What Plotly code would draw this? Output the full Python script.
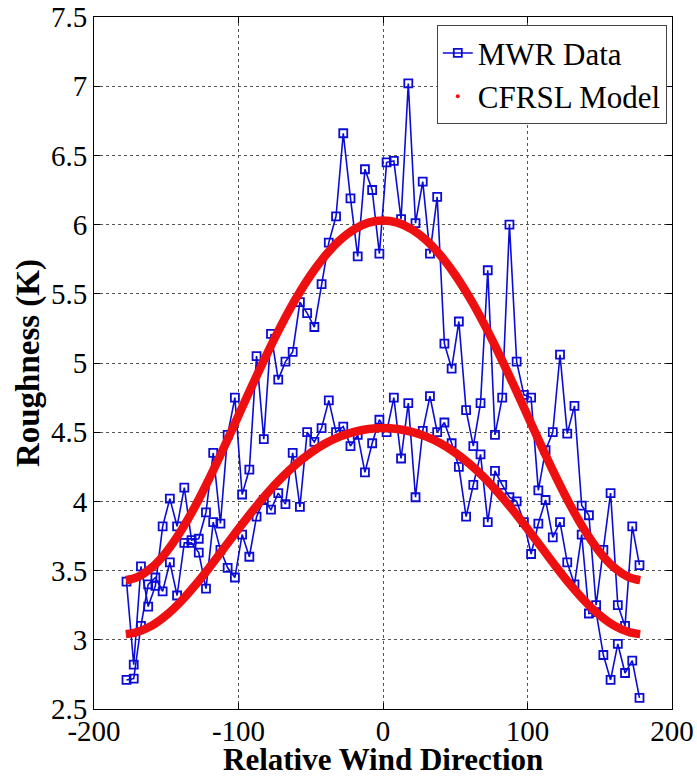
import plotly.graph_objects as go

# ---------------- data ----------------
wind_dir = [-177.5, -172.5, -167.5, -162.5, -157.5, -152.5, -147.5, -142.5, -137.5, -132.5,
            -127.5, -122.5, -117.5, -112.5, -107.5, -102.5, -97.5, -92.5, -87.5, -82.5,
            -77.5, -72.5, -67.5, -62.5, -57.5, -52.5, -47.5, -42.5, -37.5, -32.5,
            -27.5, -22.5, -17.5, -12.5, -7.5, -2.5, 2.5, 7.5, 12.5, 17.5,
            22.5, 27.5, 32.5, 37.5, 42.5, 47.5, 52.5, 57.5, 62.5, 67.5,
            72.5, 77.5, 82.5, 87.5, 92.5, 97.5, 102.5, 107.5, 112.5, 117.5,
            122.5, 127.5, 132.5, 137.5, 142.5, 147.5, 152.5, 157.5, 162.5, 167.5,
            172.5, 177.5]

mwr_high = [3.42, 2.82, 3.53, 3.24, 3.39, 3.82, 4.02, 3.82, 4.10, 3.72,
            3.73, 3.92, 4.35, 3.84, 4.48, 4.75, 4.05, 4.23, 5.05, 4.45,
            5.21, 4.88, 5.01, 5.08, 5.44, 5.36, 5.26, 5.57, 5.87, 6.06,
            6.66, 6.19, 5.77, 6.40, 6.25, 5.79, 6.45, 6.46, 6.04, 7.02,
            6.01, 6.31, 5.79, 6.20, 5.14, 4.96, 5.30, 4.66, 4.40, 4.71,
            5.67, 4.48, 4.75, 6.00, 5.01, 4.77, 4.75, 4.08, 4.37, 4.50,
            5.06, 4.49, 4.69, 3.97, 3.90, 3.25, 3.65, 4.06, 3.25, 3.10,
            3.82, 3.54]

mwr_low = [2.71, 2.72, 3.10, 3.40, 3.45, 3.35, 3.56, 3.32, 3.70, 3.70,
           3.63, 3.37, 3.85, 3.65, 3.52, 3.45, 3.76, 3.60, 3.89, 4.01,
           3.94, 4.06, 3.98, 4.35, 3.96, 4.50, 4.43, 4.53, 4.73, 4.50,
           4.54, 4.40, 4.48, 4.21, 4.42, 4.59, 4.50, 4.75, 4.31, 4.71,
           4.03, 4.51, 4.76, 4.50, 4.57, 4.42, 4.25, 3.89, 4.12, 4.34,
           3.85, 4.22, 4.12, 4.03, 4.00, 3.85, 3.62, 3.84, 4.01, 3.74,
           3.85, 3.56, 3.40, 3.76, 3.19, 3.20, 2.89, 2.71, 2.97, 2.76,
           2.85, 2.58]

model_dir = [-178, -170, -160, -150, -140, -130, -120, -110, -100, -90,
             -80, -70, -60, -50, -40, -30, -20, -10, 0,
             10, 20, 30, 40, 50, 60, 70, 80, 90, 100,
             110, 120, 130, 140, 150, 160, 170, 178]

model_high = [3.431, 3.453, 3.522, 3.634, 3.784, 3.965, 4.170, 4.391, 4.621, 4.850,
              5.072, 5.281, 5.470, 5.636, 5.775, 5.886, 5.966, 6.014, 6.030,
              6.014, 5.966, 5.886, 5.775, 5.636, 5.470, 5.281, 5.072, 4.850, 4.621,
              4.391, 4.170, 3.965, 3.784, 3.634, 3.522, 3.453, 3.431]

model_low = [3.041, 3.056, 3.102, 3.177, 3.276, 3.394, 3.525, 3.663, 3.801, 3.935,
             4.060, 4.172, 4.270, 4.352, 4.418, 4.468, 4.503, 4.523, 4.530,
             4.523, 4.503, 4.468, 4.418, 4.352, 4.270, 4.172, 4.060, 3.935, 3.801,
             3.663, 3.525, 3.394, 3.276, 3.177, 3.102, 3.056, 3.041]

x_tickvals = [-200, -100, 0, 100, 200]
x_ticktext = ["-200", "-100", "0", "100", "200"]
y_tickvals = [2.5, 3, 3.5, 4, 4.5, 5, 5.5, 6, 6.5, 7, 7.5]
y_ticktext = ["2.5", "3", "3.5", "4", "4.5", "5", "5.5", "6", "6.5", "7", "7.5"]

x_title = "Relative Wind Direction"
y_title = "Roughness (K)"

BLUE = "rgb(12,12,215)"
RED = "rgb(238,16,16)"
FONT = "Liberation Serif"

fig = go.Figure()

for i, ys in enumerate([mwr_high, mwr_low]):
    fig.add_trace(go.Scatter(
        x=wind_dir, y=ys, mode="lines+markers",
        name="MWR Data", legendgroup="mwr", showlegend=(i == 0),
        line=dict(color=BLUE, width=1.6),
        marker=dict(symbol="square-open", size=8, color=BLUE, line=dict(width=1.8, color=BLUE)),
    ))

for ys in [model_high, model_low]:
    fig.add_trace(go.Scatter(
        x=model_dir, y=ys, mode="lines", line_shape="spline",
        line=dict(color=RED, width=8.5), showlegend=False, legendgroup="cfrsl",
    ))

# legend entry for model (small red dot, as in the original)
fig.add_trace(go.Scatter(
    x=[None], y=[None], mode="markers", name="CFRSL Model", legendgroup="cfrsl",
    marker=dict(color=RED, size=4, symbol="circle"),
))

axis_common = dict(
    showline=True, linecolor="black", linewidth=1, mirror="allticks",
    ticks="inside", ticklen=6, tickcolor="black", tickwidth=1,
    showgrid=True, gridcolor="#555555", griddash="dot", gridwidth=1,
    zeroline=False, ticklabeloverflow="allow",
    tickfont=dict(family=FONT, size=29, color="black"),
)

fig.update_xaxes(range=[-200, 200], tickmode="array", tickvals=x_tickvals,
                 ticktext=x_ticktext, ticklabelstandoff=-4, **axis_common)
fig.update_yaxes(range=[2.5, 7.5], tickmode="array", tickvals=y_tickvals,
                 ticktext=y_ticktext, **axis_common)

# axis titles placed as in the original figure
fig.add_annotation(text="<b>" + x_title + "</b>", xref="paper", yref="paper",
                   x=0.5, y=-0.073, xanchor="center", yanchor="middle", showarrow=False,
                   font=dict(family=FONT, size=31, color="black"))
fig.add_annotation(text="<b>" + y_title + "</b>", xref="paper", yref="paper",
                   x=-0.114, y=0.5, xanchor="center", yanchor="middle", showarrow=False,
                   textangle=-90, font=dict(family=FONT, size=33, color="black"))

fig.update_layout(
    width=697, height=777,
    margin=dict(l=94, r=25, t=17, b=68, autoexpand=False),
    paper_bgcolor="white", plot_bgcolor="white",
    font=dict(family=FONT, color="black"),
    legend=dict(
        x=0.991, y=0.988, xanchor="right", yanchor="top",
        bgcolor="white", bordercolor="#444444", borderwidth=1,
        font=dict(family=FONT, size=31, color="black"),
        itemwidth=30, tracegroupgap=0,
    ),
    showlegend=True,
)

fig.write_html("out.html")
